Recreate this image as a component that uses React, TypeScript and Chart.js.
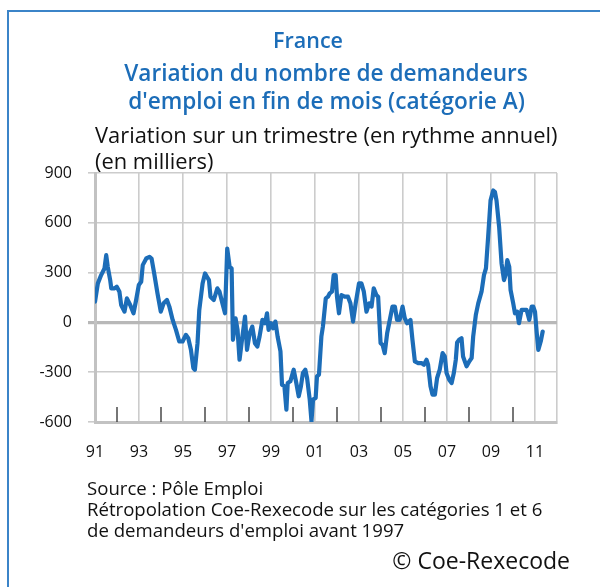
import { useEffect, useRef } from 'react';
import { Chart, registerables } from 'chart.js';

Chart.register(...registerables);

// Monthly-ish readings (decimal year) and values (thousands)
const dates = [
  1991.00, 1991.13, 1991.28, 1991.43, 1991.51, 1991.58, 1991.69, 1991.74, 1991.89, 1991.99,
  1992.11, 1992.19, 1992.34, 1992.45, 1992.60, 1992.75, 1992.87, 1992.99,
  1993.10, 1993.17, 1993.33, 1993.48, 1993.57, 1993.69, 1993.84, 1993.99,
  1994.12, 1994.27, 1994.38, 1994.53, 1994.68, 1994.83, 1994.98,
  1995.13, 1995.24, 1995.36, 1995.47, 1995.54, 1995.66, 1995.74, 1995.89,
  1996.00, 1996.09, 1996.18, 1996.25, 1996.40, 1996.56, 1996.66, 1996.79, 1996.91,
  1997.01, 1997.12, 1997.21, 1997.27, 1997.39, 1997.48, 1997.57, 1997.70, 1997.82, 1997.91,
  1998.03, 1998.15, 1998.27, 1998.38, 1998.48, 1998.61, 1998.73, 1998.82, 1998.89,
  1999.00, 1999.09, 1999.20, 1999.30, 1999.43, 1999.50, 1999.61, 1999.70, 1999.76, 1999.88,
  2000.03, 2000.15, 2000.26, 2000.36, 2000.45, 2000.56, 2000.64, 2000.76, 2000.84, 2000.91,
  2001.03, 2001.09, 2001.18, 2001.29, 2001.36, 2001.49, 2001.59, 2001.67, 2001.77, 2001.85, 2001.94,
  2002.00, 2002.09, 2002.20, 2002.35, 2002.50, 2002.61, 2002.73, 2002.85,
  2003.00, 2003.11, 2003.22, 2003.34, 2003.46, 2003.57, 2003.67, 2003.79, 2003.87, 2003.98,
  2004.07, 2004.17, 2004.28, 2004.37, 2004.52, 2004.63, 2004.73, 2004.85, 2004.98,
  2005.08, 2005.19, 2005.34, 2005.43, 2005.54, 2005.69, 2005.84, 2005.95,
  2006.07, 2006.14, 2006.25, 2006.34, 2006.45, 2006.55, 2006.67, 2006.80, 2006.90, 2006.98,
  2007.10, 2007.21, 2007.31, 2007.40, 2007.46, 2007.55, 2007.66, 2007.73, 2007.89,
  2008.01, 2008.12, 2008.19, 2008.31, 2008.42, 2008.57, 2008.68, 2008.77, 2008.87, 2008.98,
  2009.10, 2009.18, 2009.25, 2009.37, 2009.48, 2009.59, 2009.66, 2009.74, 2009.83, 2009.89,
  2010.01, 2010.09, 2010.19, 2010.27, 2010.39, 2010.50, 2010.62, 2010.74, 2010.85, 2010.92,
  2011.00, 2011.08, 2011.15, 2011.26, 2011.35,
];

const values = [
  125, 235, 285, 325, 405, 335, 255, 205, 205, 215,
  185, 105, 65, 145, 105, 55, 135, 225,
  245, 345, 385, 395, 385, 295, 175, 65,
  115, 135, 95, 15, -45, -115, -115,
  -75, -95, -165, -275, -285, -125, 75, 235,
  295, 275, 255, 155, 135, 205, 185, 115, 55,
  445, 335, 325, -105, 25, -45, -225, -85, 35, -165,
  -65, -25, -125, -145, -85, 15, -5, 55, -45,
  -5, -35, 5, -85, -175, -375, -385, -525, -365, -355,
  -285, -365, -445, -385, -305, -285, -335, -465, -595, -465,
  -455, -325, -315, -85, -25, 145, 155, 175, 185, 285, 285,
  155, 55, 165, 155, 155, 115, 5, 115,
  235, 235, 185, 65, 115, 95, 205, 165, 155, -125,
  -135, -185, -65, -5, 95, 95, 15, 15, 95,
  25, -5, 15, -105, -235, -245, -245, -255,
  -225, -255, -385, -435, -435, -335, -285, -185, -205, -305,
  -345, -365, -305, -225, -121, -105, -95, -205, -265,
  -235, -215, -85, 45, 115, 185, 285, 325, 515, 735,
  795, 785, 735, 575, 355, 255, 285, 375, 335, 195,
  115, 55, 65, -5, 75, 75, 75, 15, 95, 95,
  65, -65, -165, -115, -55,
];

const yTicks = [-600, -300, 0, 300, 600, 900];
const labelYears = [1991, 1993, 1995, 1997, 1999, 2001, 2003, 2005, 2007, 2009, 2011];
const minorTickYears = [1992, 1994, 1996, 1998, 2000, 2002, 2004, 2006, 2008, 2010];

const BLUE = '#1c6db8';
const GRID = '#cccccc';
const FONT = '"Open Sans", sans-serif';

const minorTicksPlugin = {
  id: 'minorTicks',
  beforeDatasetsDraw(chart: any) {
    const { ctx, chartArea, scales } = chart;
    const x = scales.x;
    ctx.save();
    ctx.strokeStyle = '#3c3c3c';
    ctx.lineWidth = 1.4;
    minorTickYears.forEach((yr) => {
      const px = x.getPixelForValue(yr);
      ctx.beginPath();
      ctx.moveTo(px, chartArea.bottom);
      ctx.lineTo(px, chartArea.bottom - 15);
      ctx.stroke();
    });
    ctx.restore();
  },
};

export default function App() {
  const ref = useRef<HTMLCanvasElement | null>(null);

  useEffect(() => {
    if (!ref.current) return;
    const chart = new Chart(ref.current, {
      type: 'line',
      data: {
        datasets: [
          {
            data: dates.map((d, i) => ({ x: d, y: values[i] })),
            borderColor: BLUE,
            borderWidth: 4.2,
            pointRadius: 0,
            tension: 0,
            borderJoinStyle: 'round',
            borderCapStyle: 'round',
          },
        ],
      },
      options: {
        animation: false,
        responsive: false,
        maintainAspectRatio: false,
        layout: { padding: { left: 0, top: 173, right: 43, bottom: 115 } },
        plugins: { legend: { display: false }, tooltip: { enabled: false }, title: { display: false } },
        scales: {
          x: {
            type: 'linear',
            min: 1991,
            max: 2012,
            afterFit: (s: any) => { s.height = 50; },
            afterBuildTicks: (s: any) => {
              const t = [];
              for (let y = 1991; y <= 2012; y++) t.push({ value: y });
              s.ticks = t;
            },
            ticks: {
              autoSkip: false,
              maxRotation: 0,
              padding: 21,
              color: '#111',
              font: { family: FONT, size: 16 },
              callback: (v: any) => (labelYears.includes(v) ? String(v % 100).padStart(2, '0') : ''),
            },
            grid: {
              drawTicks: false,
              lineWidth: 1.6,
              color: (c: any) => {
                const v = c.tick && c.tick.value;
                if (v === 1991) return 'rgba(0,0,0,0)';
                if (v === 2012 || (v % 2 === 1)) return GRID;
                return 'rgba(0,0,0,0)';
              },
            },
            border: { display: true, color: '#c2c2c2', width: 3 },
          },
          y: {
            type: 'linear',
            min: -600,
            max: 900,
            afterFit: (s: any) => { s.width = 95; },
            afterBuildTicks: (s: any) => { s.ticks = yTicks.map((v) => ({ value: v })); },
            ticks: {
              padding: 16,
              color: '#111',
              font: { family: FONT, size: 16 },
              callback: (v: any) => String(v),
            },
            grid: {
              drawTicks: true,
              tickLength: 7,
              lineWidth: (c: any) => (c.tick && c.tick.value === 0 ? 3.2 : 1.6),
              color: (c: any) => (c.tick && c.tick.value === 0 ? '#b8b8b8' : GRID),
              tickColor: (c: any) => (c.tick && c.tick.value === 0 ? '#b8b8b8' : GRID),
            },
            border: { display: true, color: '#c2c2c2', width: 3 },
          },
        },
      },
      plugins: [minorTicksPlugin],
    } as any);
    return () => chart.destroy();
  }, []);

  const abs = (s: any) => ({ position: 'absolute', whiteSpace: 'nowrap', margin: 0, ...s });

  return (
    <div style={{ position: 'absolute', left: 0, top: 0, width: 600, height: 587, overflow: 'hidden', background: '#fff', fontFamily: FONT }}>
      <div style={abs({ left: 7, top: 10, width: 640, height: 640, borderLeft: '2px solid #3b84c8', borderTop: '2px solid #3b84c8' })} />
      <canvas ref={ref} width={600} height={587} style={{ position: 'absolute', left: 0, top: 0, width: 600, height: 587 }} />
      <div style={abs({ left: 0, width: 616, top: 28, textAlign: 'center', fontSize: 21.5, lineHeight: '24px', fontWeight: 600, color: BLUE })}>France</div>
      <div style={abs({ left: 0, width: 652, top: 60, textAlign: 'center', fontSize: 22.6, lineHeight: '26px', fontWeight: 600, color: BLUE })}>Variation du nombre de demandeurs</div>
      <div style={abs({ left: 0, width: 653, top: 88, textAlign: 'center', fontSize: 22.6, lineHeight: '26px', fontWeight: 600, color: BLUE })}>d'emploi en fin de mois (catégorie A)</div>
      <div style={abs({ left: 95, top: 122, fontSize: 21.9, lineHeight: '25px', color: '#111' })}>Variation sur un trimestre (en rythme annuel)</div>
      <div style={abs({ left: 95, top: 148, fontSize: 21.9, lineHeight: '25px', color: '#111' })}>(en milliers)</div>
      <div style={abs({ left: 87, top: 477, fontSize: 18.6, lineHeight: '21px', color: '#111' })}>Source : Pôle Emploi</div>
      <div style={abs({ left: 87, top: 498, fontSize: 18.6, lineHeight: '21px', color: '#111' })}>Rétropolation Coe-Rexecode sur les catégories 1 et 6</div>
      <div style={abs({ left: 87, top: 519, fontSize: 18.6, lineHeight: '21px', color: '#111' })}>de demandeurs d'emploi avant 1997</div>
      <div style={abs({ right: 30, top: 547, fontSize: 23, lineHeight: '27px', color: '#111' })}>© Coe-Rexecode</div>
    </div>
  );
}
